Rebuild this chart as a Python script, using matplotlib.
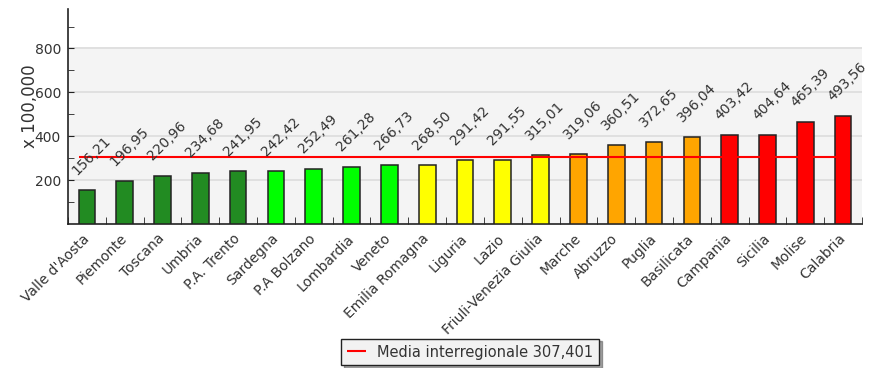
import matplotlib
matplotlib.use("Agg")
import matplotlib.pyplot as plt
from matplotlib.patches import Rectangle
import numpy as np

regions = ["Valle d'Aosta", "Piemonte", "Toscana", "Umbria", "P.A. Trento", "Sardegna",
           "P.A Bolzano", "Lombardia", "Veneto", "Emilia Romagna", "Liguria", "Lazio",
           "Friuli-Venezia Giulia", "Marche", "Abruzzo", "Puglia", "Basilicata",
           "Campania", "Sicilia", "Molise", "Calabria"]
values = [156.21, 196.95, 220.96, 234.68, 241.95, 242.42, 252.49, 261.28, 266.73,
          268.50, 291.42, 291.55, 315.01, 319.06, 360.51, 372.65, 396.04, 403.42,
          404.64, 465.39, 493.56]
colors = ["#228B22"] * 5 + ["#00FF00"] * 4 + ["#FFFF00"] * 4 + ["#FFA500"] * 4 + ["#FF0000"] * 4
mean_value = 307.401
mean_label = "Media interregionale 307,401"
y_ticks = [200, 400, 600, 800]
y_label = "x 100,000"

fig = plt.figure(figsize=(8.69, 3.68), dpi=100)
ax = fig.add_axes([68/869, 144/368, 794/869, 215/368])
ax.set_xlim(-0.5, len(values) - 0.5)
ax.set_ylim(0, 980)

# grey plot background (up to the top gridline)
ax.add_patch(Rectangle((-0.5, 0), len(values), 805, facecolor="#F4F4F4",
                       edgecolor="none", zorder=0))
for t in y_ticks:
    ax.axhline(t, color="#DDDDDD", lw=1.2, zorder=1)

x = np.arange(len(values))
ax.bar(x, values, width=0.44, color=colors, edgecolor="#222222", linewidth=1.1, zorder=3)

ax.hlines(mean_value, -0.2, len(values) - 1.2, color="#FF0000", lw=1.5, zorder=4,
          label=mean_label)

for xi, v in zip(x, values):
    ax.annotate(f"{v:.2f}".replace(".", ","), (xi, v), xytext=(-5.5, 9),
                textcoords="offset points", rotation=45, rotation_mode="anchor",
                ha="left", va="bottom", fontsize=10, color="#333333", zorder=5)

for s in ["top", "right"]:
    ax.spines[s].set_visible(False)
for s in ["left", "bottom"]:
    ax.spines[s].set_color("#222222")
    ax.spines[s].set_linewidth(1.2)

ax.set_yticks(y_ticks)
ax.set_yticks([100, 300, 500, 700, 900], minor=True)
ax.tick_params(axis="y", which="both", direction="in", length=4, pad=5,
               labelsize=10, labelcolor="#333333", color="#222222")

ax.set_xticks(x)
ax.set_xticklabels(regions, rotation=45, rotation_mode="anchor", ha="right",
                   va="center", fontsize=10, color="#333333")
ax.set_xticks(np.arange(-0.5, len(values), 1), minor=True)
ax.tick_params(axis="x", which="major", length=0, pad=9)
ax.tick_params(axis="x", which="minor", direction="in", length=5, color="#222222")

ax.text(-0.048, 0.55, y_label, transform=ax.transAxes, rotation=90,
        ha="center", va="center", fontsize=12, color="#333333")

leg = fig.legend(loc="center", bbox_to_anchor=(470/869, 16/368), fontsize=10.5,
                 frameon=True, fancybox=False, shadow=True, handlelength=1.3,
                 borderpad=0.4)
leg.get_frame().set_edgecolor("#222222")
leg.get_frame().set_facecolor("#F2F2F2")
for t in leg.get_texts():
    t.set_color("#333333")

fig.savefig("out.png", dpi=100)
